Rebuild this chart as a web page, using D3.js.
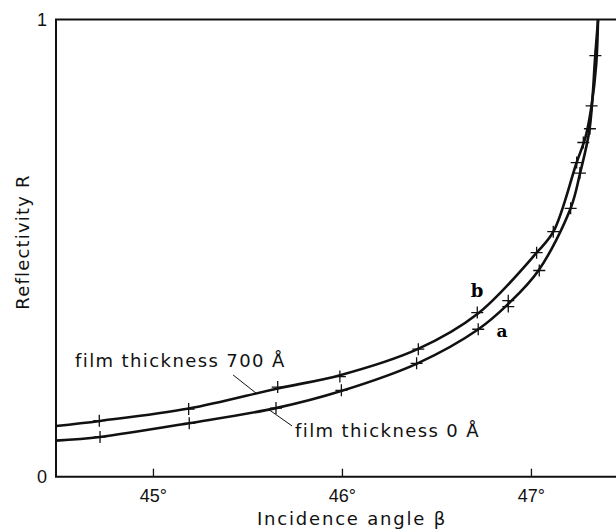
<!DOCTYPE html>
<html>
<head>
<meta charset="utf-8">
<script src="https://cdn.jsdelivr.net/npm/d3@7"></script>
<style>
  body { margin: 0; background: #fff; }
  .lbl { font-family: "DejaVu Sans", sans-serif; fill: #111; }
  .tick text { font-family: "Liberation Sans", sans-serif; font-size: 18px; fill: #111; }
</style>
</head>
<body>
<script>
// Reflectivity vs incidence angle

// curve b : film thickness 700 A (traced line)
var curveAngB = [44.487, 44.72, 45.19, 45.66, 45.99, 46.40, 46.72, 47.03, 47.12, 47.24, 47.29, 47.32, 47.345, 47.355];
var curveRB   = [0.111, 0.122, 0.149, 0.193, 0.222, 0.279, 0.357, 0.49, 0.537, 0.685, 0.745, 0.81, 0.9, 1.0];
// curve a : film thickness 0 A (traced line)
var curveAngA = [44.487, 44.72, 45.19, 45.65, 46.00, 46.40, 46.72, 46.88, 47.04, 47.21, 47.26, 47.31, 47.34, 47.355];
var curveRA   = [0.079, 0.087, 0.117, 0.150, 0.188, 0.248, 0.322, 0.378, 0.451, 0.587, 0.664, 0.76, 0.92, 1.0];

// measured points (crosses)
var ptAngB = [44.716, 45.189, 45.660, 45.989, 46.404, 46.716, 47.030, 47.118, 47.242, 47.277, 47.321];
var ptRB   = [0.1225, 0.148, 0.196, 0.219, 0.279, 0.359, 0.490, 0.536, 0.687, 0.731, 0.811];
var ptAngA = [44.720, 45.192, 45.651, 45.997, 46.395, 46.721, 46.880, 46.880, 47.044, 47.210, 47.259, 47.312, 47.341];
var ptRA   = [0.0869, 0.1168, 0.150, 0.189, 0.248, 0.3225, 0.372, 0.385, 0.451, 0.587, 0.664, 0.761, 0.921];

var xTicks = [45, 46, 47];
var yTicks = [0, 1];

var width = 616, height = 530;
var margin = {top: 19.5, left: 56, bottom: 53.3};

var svg = d3.select("body").append("svg")
    .attr("width", width)
    .attr("height", height);

// scales
var xScale = d3.scaleLinear().domain([44.487, 47.45]).range([margin.left, width]);
var yScale = d3.scaleLinear().domain([0, 1]).range([height - margin.bottom, margin.top]);

function zip(a, b) { return a.map(function(v, i) { return [v, b[i]]; }); }

// axes
svg.append("g")
    .attr("transform", "translate(0," + yScale(0) + ")")
    .call(d3.axisBottom(xScale).tickValues(xTicks).tickSize(-8).tickPadding(13)
      .tickFormat(function(d) { return d + "°"; }))
    .call(function(g) { g.select(".domain").remove(); })
    .call(function(g) { g.selectAll(".tick line").attr("stroke", "#111").attr("stroke-width", 1.3); });

svg.append("g")
    .attr("transform", "translate(" + margin.left + ",0)")
    .call(d3.axisLeft(yScale).tickValues(yTicks).tickSize(0).tickPadding(9)
      .tickFormat(d3.format("d")))
    .call(function(g) { g.select(".domain").remove(); });

// frame: left, bottom, top
svg.append("path")
    .attr("d", "M" + width + "," + yScale(1) + "H" + margin.left + "V" + yScale(0) + "H" + width)
    .attr("fill", "none")
    .attr("stroke", "#111")
    .attr("stroke-width", 2);

// curves
var line = d3.line()
    .x(function(d) { return xScale(d[0]); })
    .y(function(d) { return yScale(d[1]); })
    .curve(d3.curveCatmullRom.alpha(0.5));

[zip(curveAngB, curveRB), zip(curveAngA, curveRA)].forEach(function(c) {
  svg.append("path")
      .datum(c)
      .attr("d", line)
      .attr("fill", "none")
      .attr("stroke", "#111")
      .attr("stroke-width", 2.6);
});

// crosses
var pts = zip(ptAngB, ptRB).concat(zip(ptAngA, ptRA));
svg.selectAll(".cross").data(pts).enter().append("path")
    .attr("class", "cross")
    .attr("d", function(d) {
      var x = xScale(d[0]), y = yScale(d[1]), s = 6;
      return "M" + (x - s) + "," + y + "H" + (x + s) + "M" + x + "," + (y - s) + "V" + (y + s);
    })
    .attr("stroke", "#111")
    .attr("stroke-width", 1.3);

// leader lines and annotations
svg.append("line")
    .attr("x1", xScale(45.424)).attr("y1", yScale(0.2225))
    .attr("x2", xScale(45.551)).attr("y2", yScale(0.181))
    .attr("stroke", "#111").attr("stroke-width", 1);
svg.append("line")
    .attr("x1", xScale(45.609)).attr("y1", yScale(0.148))
    .attr("x2", xScale(45.736)).attr("y2", yScale(0.111))
    .attr("stroke", "#111").attr("stroke-width", 1);

svg.append("text").attr("class", "lbl")
    .attr("x", 75).attr("y", 367)
    .style("font-size", "18px").style("letter-spacing", "1.4px")
    .text("film thickness 700 Å");
svg.append("text").attr("class", "lbl")
    .attr("x", 295).attr("y", 437)
    .style("font-size", "18px").style("letter-spacing", "1.4px")
    .text("film thickness 0 Å");

svg.append("text")
    .attr("x", 477).attr("y", 297)
    .attr("text-anchor", "middle")
    .style("font-family", "'DejaVu Serif', serif").style("font-weight", "bold").style("font-size", "18px")
    .text("b");
svg.append("text")
    .attr("x", 502).attr("y", 337)
    .attr("text-anchor", "middle")
    .style("font-family", "'DejaVu Serif', serif").style("font-weight", "bold").style("font-size", "17px")
    .text("a");

// axis titles
svg.append("text").attr("class", "lbl")
    .attr("text-anchor", "middle")
    .attr("x", 352).attr("y", 525)
    .style("font-size", "18px").style("letter-spacing", "1.8px")
    .text("Incidence angle β");

svg.append("text").attr("class", "lbl")
    .attr("text-anchor", "middle")
    .attr("transform", "translate(29,242)rotate(-90)")
    .style("font-size", "18px").style("letter-spacing", "1.2px")
    .text("Reflectivity R");
</script>
</body>
</html>
